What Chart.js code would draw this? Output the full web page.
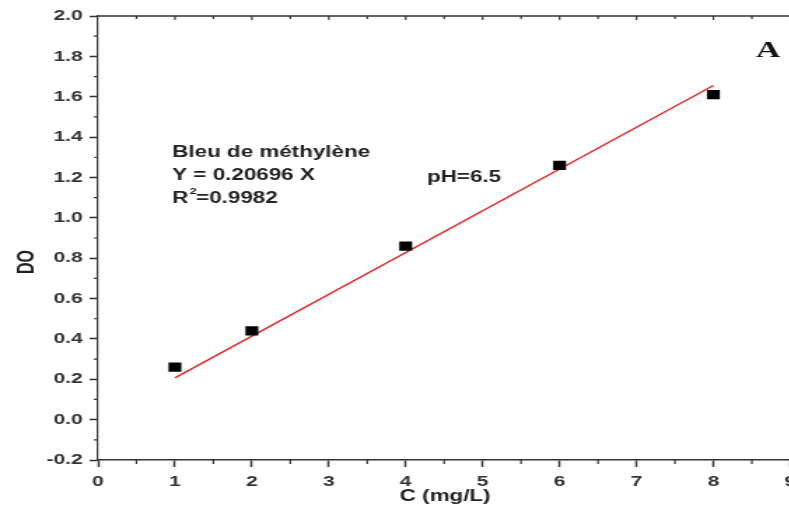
<!DOCTYPE html>
<html>
<head>
<meta charset="utf-8">
<script src="https://cdn.jsdelivr.net/npm/chart.js@4.4.1/dist/chart.umd.min.js"></script>
<style>
 html, body { margin: 0; padding: 0; background: #fff; overflow: hidden; }
 #wrap { width: 789px; height: 511px; overflow: hidden; position: relative; }
 /* the figure is drawn narrow and widened horizontally */
 #stage { position: absolute; left: 0; top: 0; width: 571px; height: 511px; transform: scaleX(1.4); transform-origin: 0 0; }
</style>
</head>
<body>
<div id="wrap"><div id="stage"><canvas id="chart" width="571" height="511"></canvas></div></div>
<script>
// calibration points, methylene blue at pH 6.5
const concentrations = [1, 2, 4, 6, 8];
const absorbances = [0.26, 0.44, 0.86, 1.26, 1.61];
const slope = 0.20696;
const fitRange = [1, 8];
const xTicks = [0, 1, 2, 3, 4, 5, 6, 7, 8, 9];
const yTicks = [-0.2, 0, 0.2, 0.4, 0.6, 0.8, 1.0, 1.2, 1.4, 1.6, 1.8, 2.0];

const AXIS = '#333';
const SANS = '"Liberation Sans", Arial, sans-serif';

const fitLine = fitRange.map(x => ({ x, y: slope * x }));

// border, minor ticks, titles and annotations
const decorations = {
 id: 'decorations',
 afterDraw(chart) {
 const { ctx, chartArea: a, scales: { x, y } } = chart;
 ctx.save();
 ctx.strokeStyle = AXIS;
 ctx.lineWidth = 1.5;

 // top border
 ctx.beginPath();
 ctx.moveTo(a.left, a.top);
 ctx.lineTo(a.right, a.top);
 ctx.stroke();

 // minor ticks on the left and bottom axes
 ctx.lineWidth = 1.2;
 ctx.beginPath();
 for (let v = -0.1; v < 2.0; v += 0.2) {
 const py = y.getPixelForValue(v);
 ctx.moveTo(a.left - 3, py);
 ctx.lineTo(a.left, py);
 }
 for (let v = 0.5; v < 9; v += 1) {
 const px = x.getPixelForValue(v);
 ctx.moveTo(px, a.bottom);
 ctx.lineTo(px, a.bottom + 4);
 }
 // small inward ticks along the top
 for (let v = 0.5; v <= 9; v += 0.5) {
 const px = x.getPixelForValue(v);
 ctx.moveTo(px, a.top);
 ctx.lineTo(px, a.top + (Number.isInteger(v) ? 4 : 3));
 }
 ctx.stroke();

 // axis titles
 ctx.fillStyle = '#222';
 ctx.font = 'bold 16px ' + SANS;
 ctx.textAlign = 'center';
 ctx.textBaseline = 'middle';
 ctx.fillText('C (mg/L)', 318, 497);
 ctx.save();
 ctx.translate(20, 262);
 ctx.rotate(-Math.PI / 2);
 ctx.fillText('DO', 0, 0);
 ctx.restore();

 // equation block
 ctx.textAlign = 'left';
 const tx = 123;
 ctx.fillText('Bleu de méthylène', tx, 153);
 ctx.fillText('Y = 0.20696 X', tx, 176);
 ctx.fillText('R', tx, 199);
 const rw = ctx.measureText('R').width;
 ctx.font = 'bold 9px ' + SANS;
 ctx.fillText('2', tx + rw + 1, 192);
 ctx.font = 'bold 16px ' + SANS;
 ctx.fillText('=0.9982', tx + rw + 5.5, 199);
 ctx.fillText('pH=6.5', 305, 178);

 // panel letter
 ctx.font = 'bold 24px "Liberation Serif", "Times New Roman", serif';
 ctx.fillStyle = '#111';
 ctx.fillText('A', 540, 51);
 ctx.restore();
 }
};

new Chart(document.getElementById('chart'), {
 type: 'scatter',
 data: {
 datasets: [
 {
 type: 'line',
 data: fitLine,
 borderColor: '#e02020',
 borderWidth: 1.3,
 pointRadius: 0,
 fill: false,
 order: 2,
 },
 {
 data: concentrations.map((c, i) => ({ x: c, y: absorbances[i] })),
 pointStyle: 'rect',
 pointRadius: 6.5,
 backgroundColor: '#000',
 borderColor: '#000',
 borderWidth: 0,
 order: 1,
 },
 ],
 },
 options: {
 responsive: false,
 animation: false,
 events: [],
 layout: { padding: { top: 16, right: 6, left: 0, bottom: 0 } },
 plugins: { legend: { display: false }, tooltip: { enabled: false } },
 scales: {
 x: {
 type: 'linear',
 min: 0,
 max: 9,
 afterBuildTicks: s => { s.ticks = xTicks.map(v => ({ value: v })); },
 afterFit: s => { s.height = 51; s.paddingLeft = 0; s.paddingRight = 0; },
 ticks: { color: '#333', font: { family: SANS, size: 15, weight: 'bold' }, padding: 6, maxRotation: 0 },
 grid: { display: true, drawOnChartArea: false, drawTicks: true, tickLength: 7, tickColor: AXIS, tickWidth: 1.5 },
 border: { display: true, color: AXIS, width: 1.5 },
 },
 y: {
 type: 'linear',
 min: -0.2,
 max: 2.0,
 afterBuildTicks: s => { s.ticks = yTicks.map(v => ({ value: v })); },
 afterFit: s => { s.width = 70; s.paddingTop = 0; s.paddingBottom = 0; },
 ticks: {
 color: '#333',
 font: { family: SANS, size: 15, weight: 'bold' },
 padding: 5,
 callback: v => Number(v).toFixed(1),
 },
 grid: { display: true, drawOnChartArea: false, drawTicks: true, tickLength: 6, tickColor: AXIS, tickWidth: 1.5 },
 border: { display: true, color: AXIS, width: 1.2 },
 },
 },
 },
 plugins: [decorations],
});
</script>
</body>
</html>
